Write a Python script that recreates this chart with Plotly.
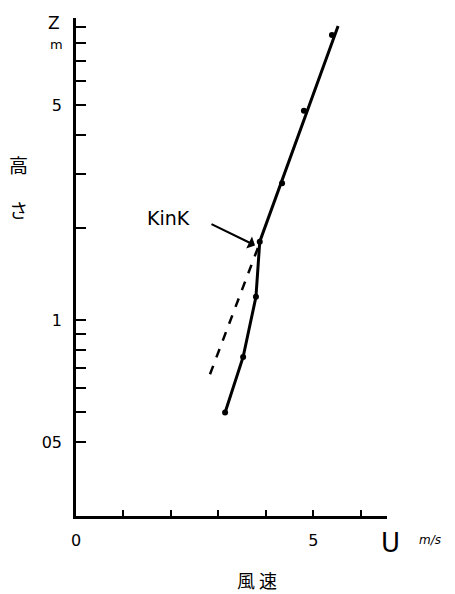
import plotly.graph_objects as go

# Wind-speed profile (U in m/s, height Z in m)
line_u = [5.52, 3.87, 3.79, 3.52, 3.14]
line_z = [9.07, 1.80, 1.19, 0.758, 0.50]

obs_u = [5.39, 4.80, 4.34, 3.87, 3.79, 3.52, 3.14]
obs_z = [8.48, 4.80, 2.79, 1.80, 1.19, 0.758, 0.50]

dash_u = [3.83, 2.76]
dash_z = [1.716, 0.628]

x_ticks = [0, 1, 2, 3, 4, 5, 6]
x_text = ["0", "", "", "", "", "5", ""]
y_ticks = [0.4, 0.5, 0.6, 0.7, 0.8, 0.9, 1, 2, 3, 4, 5, 6, 7, 8, 9, 10]
y_text = ["05", "", "", "", "", "", "1", "", "", "", "5", "", "", "", "", ""]

kink_u, kink_z = 3.77, 1.75

FONT = "DejaVu Sans"
CJK = "Noto Sans CJK JP"

fig = go.Figure()
fig.add_trace(go.Scatter(x=dash_u, y=dash_z, mode="lines",
                         line=dict(color="black", width=2.5, dash="dash"),
                         showlegend=False, hoverinfo="skip"))
fig.add_trace(go.Scatter(x=line_u, y=line_z, mode="lines",
                         line=dict(color="black", width=3),
                         showlegend=False))
fig.add_trace(go.Scatter(x=obs_u, y=obs_z, mode="markers",
                         marker=dict(color="black", size=6),
                         showlegend=False))

fig.update_layout(
    width=455, height=594,
    margin=dict(l=76, r=68, t=18, b=78),
    paper_bgcolor="white", plot_bgcolor="white",
    font=dict(family=FONT, color="black", size=16),
    xaxis=dict(range=[0, 6.55], showgrid=False, zeroline=False,
               showline=True, linecolor="black", linewidth=2.5,
               tickmode="array", tickvals=x_ticks, ticktext=x_text,
               ticks="inside", ticklen=6, tickwidth=2, tickcolor="black",
               ticklabelstandoff=8, tickfont=dict(size=16)),
    yaxis=dict(type="log", range=[-0.6384, 0.9837], showgrid=False,
               zeroline=False, showline=True, linecolor="black", linewidth=2.5,
               tickmode="array", tickvals=y_ticks, ticktext=y_text,
               ticks="inside", ticklen=10, tickwidth=2, tickcolor="black",
               ticklabelstandoff=8, tickfont=dict(size=16)),
)


def label(x, y, text, size, family=FONT):
    return dict(x=x, y=y, xref="paper", yref="paper", text=text,
                showarrow=False, xanchor="center", yanchor="middle",
                font=dict(size=size, family=family))


ann = [
    dict(x=kink_u, y=0.2430, xref="x", yref="y", text="", showarrow=True,
         ax=-45, ay=-22, axref="pixel", ayref="pixel",
         arrowhead=1, arrowsize=1.0, arrowwidth=2.2, arrowcolor="black"),
    label(0.299, 0.598, "KinK", 19),
    label(-0.0707, 0.990, "Z", 17),
    label(-0.064, 0.946, "m", 13),
    label(-0.186, 0.705, "高", 19, CJK),
    label(-0.186, 0.616, "さ", 19, CJK),
    label(1.010, -0.054, "U", 26),
    label(1.138, -0.048, "<i>m/s</i>", 12),
    label(0.582, -0.1285, "風 速", 18, CJK),
]
fig.update_layout(annotations=ann)

fig.write_html("out.html")
